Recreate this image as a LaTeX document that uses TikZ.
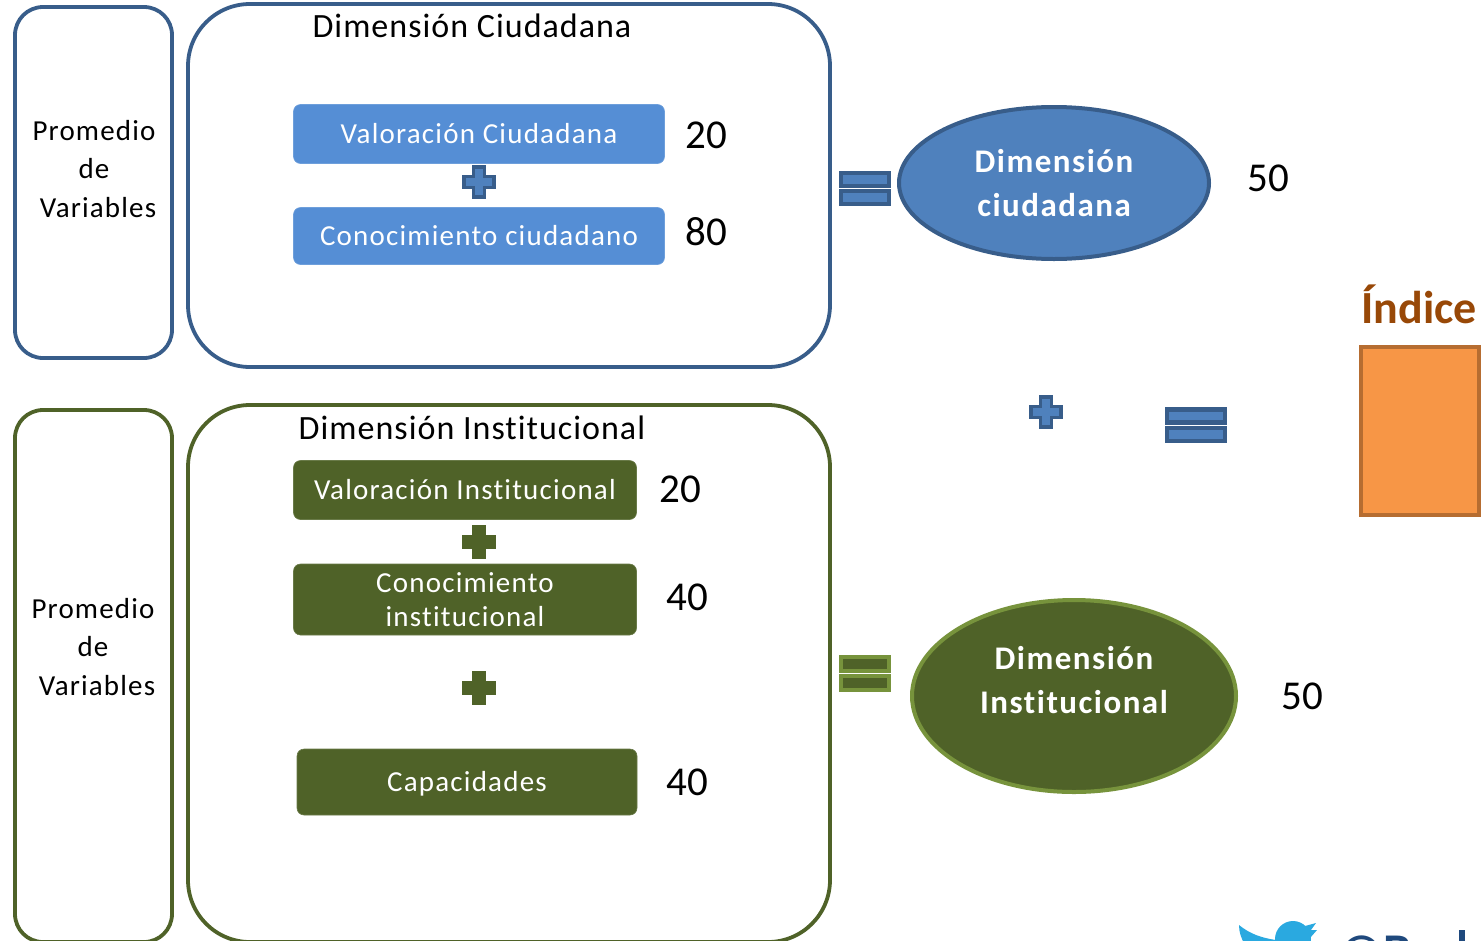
\documentclass[tikz,border=0pt]{standalone}
\usepackage{fontspec}
\setmainfont{Carlito}[RawFeature={-liga;-clig;-dlig}]
\definecolor{bluefill}{HTML}{558ED5}
\definecolor{blueline}{HTML}{385D8A}
\definecolor{bluemid}{HTML}{4F81BD}
\definecolor{greendark}{HTML}{4F6228}
\definecolor{greenlite}{HTML}{77933C}
\definecolor{orangef}{HTML}{F79646}
\definecolor{oranged}{HTML}{B66D31}
\definecolor{indicec}{HTML}{984807}
\definecolor{twbird}{HTML}{2AA9E0}
\definecolor{twtext}{HTML}{1F497D}
\newcommand{\spaced}[1]{\addfontfeature{LetterSpace=#1}}
\tikzset{
  x=1pt,y=-1pt,
  panel/.style={draw,line width=3.8pt,fill=none,inner sep=0pt},
  item/.style={rectangle,rounded corners=7pt,inner sep=0pt,align=center,text=white,font=\fontsize{29}{34}\selectfont\spaced{4.2}},
  itemblue/.style={item,fill=bluefill,draw=bluefill!85!white,line width=.6pt},
  itemgreen/.style={item,fill=greendark,draw=greendark!85!white,line width=.6pt},
  val/.style={inner sep=0pt,text=black,font=\fontsize{41}{46}\selectfont},
  title/.style={inner sep=0pt,text=black,font=\fontsize{34}{40}\selectfont\spaced{3}},
  side/.style={inner sep=0pt,align=center,text=black,font=\fontsize{29}{38.2}\selectfont\spaced{4}},
  dim/.style={ellipse,inner sep=0pt,align=center,text=white,line width=4pt,font=\fontsize{33}{44}\selectfont\bfseries\spaced{4.5}},
  barblue/.style={draw=blueline,fill=bluemid,line width=4.6pt},
  bargreen/.style={draw=greenlite,fill=greendark,line width=4.6pt},
  plusblue/.style={draw=blueline,fill=bluemid,line width=3.4pt},
  plusgreen/.style={draw=greendark,fill=greendark,line width=3.4pt},
  plusmark/.pic={\path[pic actions] (-15,-5.5) -- (-5.5,-5.5) -- (-5.5,-15) -- (5.5,-15) -- (5.5,-5.5) -- (15,-5.5) -- (15,5.5) -- (5.5,5.5) -- (5.5,15) -- (-5.5,15) -- (-5.5,5.5) -- (-15,5.5) -- cycle;},
}
\usetikzlibrary{shapes.geometric}
\begin{document}
\begin{tikzpicture}
\useasboundingbox (0,0) rectangle (1482,940);
\clip (0,0) rectangle (1482,940);
% panels
\draw[panel,draw=blueline,rounded corners=28pt] (15,7) rectangle (172,358);
\draw[panel,draw=blueline,rounded corners=62pt] (188,4) rectangle (830,367);
\draw[panel,draw=greendark,rounded corners=28pt] (15,410) rectangle (172,942);
\draw[panel,draw=greendark,rounded corners=62pt] (188,405) rectangle (830,942);
% side labels
\node[side] (sa) at (94,169) {Promedio\\de\\\hspace*{8pt}Variables};
\node[side] (sb) at (93,647) {Promedio\\de\\\hspace*{8pt}Variables};
% titles
\node[title] (ta) at (472,26) {Dimensión Ciudadana};
\node[title] (tb) at (472,428) {Dimensión Institucional};
% items blue
\node[itemblue,minimum width=371pt,minimum height=59pt] (vc) at (479,134) {Valoración Ciudadana};
\node[itemblue,minimum width=371pt,minimum height=57pt] (cc) at (479,236) {Conocimiento ciudadano};
\node[val] (v1) at (706,135) {20};
\node[val] (v2) at (706,232) {80};
% items green
\node[itemgreen,minimum width=343pt,minimum height=59pt] (vi) at (465,490) {Valoración Institucional};
\node[itemgreen,minimum width=343pt,minimum height=71pt] (ci) at (465,599.5) {Conocimiento\\institucional};
\node[itemgreen,minimum width=340pt,minimum height=66pt] (ca) at (467,782) {};
\node[inner sep=0pt,text=white,font=\fontsize{29}{34}\selectfont\spaced{4.2}] (cat) at (467,784) {Capacidades};
\node[val] (v3) at (680,489) {20};
\node[val] (v4) at (687,597) {40};
\node[val] (v5) at (687,782) {40};
% plus
\pic[plusblue] at (479,182) {plusmark};
\pic[plusgreen] at (479,542) {plusmark};
\pic[plusgreen] at (479,688) {plusmark};
\pic[plusblue] at (1046,412) {plusmark};
% equals
\draw[barblue] (841,173) rectangle (889,186);
\draw[barblue] (841,191) rectangle (889,204);
\draw[barblue] (1167,409.5) rectangle (1225,422.5);
\draw[barblue] (1167,428) rectangle (1225,441);
\draw[bargreen] (841,657) rectangle (889,671);
\draw[bargreen] (841,676) rectangle (889,690);
% ellipses
\node[dim,draw=blueline,fill=bluemid,minimum width=310pt,minimum height=152pt] (da) at (1054,183) {Dimensión\\ciudadana};
\node[dim,draw=greenlite,fill=greendark,minimum width=324pt,minimum height=192pt] (db) at (1074,696) {Dimensión\\Institucional\\[-12pt]};
\node[val] (v6) at (1268,178) {50};
\node[val] (v7) at (1302,696) {50};
% index
\node[inner sep=0pt,text=indicec,font=\fontsize{46}{52}\selectfont\bfseries] (ix) at (1419,304) {Índice};
\node[rectangle,draw=oranged,fill=orangef,line width=4pt,minimum width=118pt,minimum height=168pt,inner sep=0pt] (ib) at (1420,431) {};
% twitter mark, cut off by the lower edge
\fill[twbird] (1239,925) .. controls (1250,934) and (1262,938) .. (1276,940) -- (1276,945) -- (1245,945) .. controls (1241,938) and (1239,932) .. (1239,925) -- cycle;
\fill[twbird] (1293,939) circle[radius=18pt];
\fill[twbird] (1305,926) -- (1316,923) -- (1311,930) -- (1317,930) -- (1310,938) -- cycle;
\node[inner sep=0pt,anchor=base west,text=twtext,font=\fontsize{50}{56}\selectfont\bfseries] (tw) at (1338,968) {@B};
\fill[twtext] (1459,930) rectangle (1465,945);
\end{tikzpicture}
\end{document}
